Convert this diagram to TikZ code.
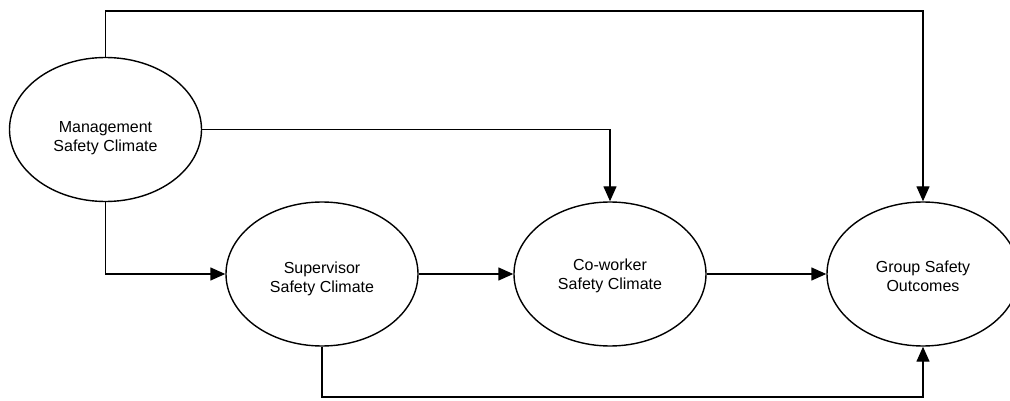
\documentclass[tikz,border=0pt]{standalone}
\usepackage{fontspec}
\setmainfont{Liberation Sans}
\usetikzlibrary{shapes.geometric,arrows.meta}
\begin{document}
\begin{tikzpicture}[x=1pt,y=-1pt,
  construct/.style={draw, ellipse, line width=1.4pt, inner sep=0pt,
    minimum width=192pt, minimum height=144pt},
  caption/.style={align=center, inner sep=0pt,
    font=\fontsize{16}{19}\selectfont},
  link/.style={draw, line width=1.4pt, -{Triangle[length=15pt,width=13pt]}}]
\useasboundingbox (0,0) rectangle (1010,401);
% constructs
\node[construct] (mgmt) at (105.5,129.5) {};
\node[construct] (sup)  at (322,274) {};
\node[construct] (cow)  at (610,274) {};
\node[construct] (grp)  at (923,274) {};
% their names, set a little below each centre
\node[caption] (mgmt-t) at ([yshift=-9pt]mgmt.center) {Management\\Safety Climate};
\node[caption] (sup-t)  at ([yshift=-5pt]sup.center) {Supervisor\\Safety Climate};
\node[caption] (cow-t)  at ([yshift=-2pt]cow.center) {Co-worker\\Safety Climate};
\node[caption] (grp-t)  at ([yshift=-2pt]grp.center) {Group Safety\\Outcomes};
% routing levels
\coordinate (toprail) at (0,11);
\coordinate (botrail) at (0,397);
% paths
\draw[link] (mgmt.north) -- (mgmt.north |- toprail) -| (grp.north);
\draw[link] (mgmt.east) -| (cow.north);
\draw[link] (mgmt.south) |- (sup.west);
\draw[link] (sup.east) -- (cow.west);
\draw[link] (cow.east) -- (grp.west);
\draw[link] (sup.south) -- (sup.south |- botrail) -| (grp.south);
\end{tikzpicture}
\end{document}
